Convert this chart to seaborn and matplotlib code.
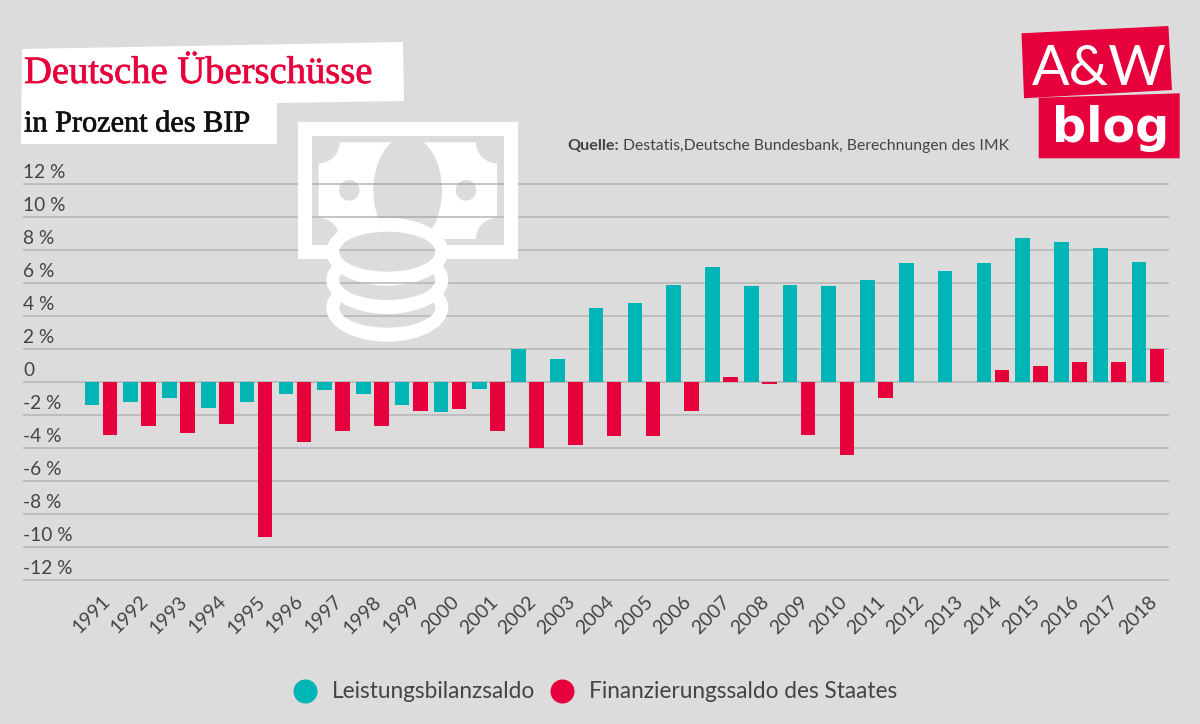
import numpy as np
import pandas as pd
import matplotlib
matplotlib.use("Agg")
import matplotlib.pyplot as plt
import matplotlib.patheffects as pe
import seaborn as sns
from matplotlib.lines import Line2D
from matplotlib.patches import Circle, Ellipse, Polygon, Rectangle
from matplotlib.transforms import ScaledTranslation

# Daten
jahre = list(range(1991, 2019))
leistungsbilanz = [-1.4, -1.2, -1.0, -1.55, -1.2, -0.75, -0.5, -0.75, -1.4, -1.8, -0.4,
                   2.0, 1.4, 4.5, 4.8, 5.9, 7.0, 5.8, 5.9, 5.8, 6.2, 7.2, 6.7, 7.2, 8.7, 8.5, 8.1, 7.3]
finanzierung = [-3.2, -2.65, -3.1, -2.55, -9.4, -3.65, -2.95, -2.65, -1.75, -1.65, -3.0,
                -4.0, -3.8, -3.3, -3.3, -1.75, 0.3, -0.15, -3.2, -4.4, -0.95, 0.0, 0.0, 0.7, 1.0, 1.2, 1.2, 2.0]
ytick_werte = [12, 10, 8, 6, 4, 2, 0, -2, -4, -6, -8, -10, -12]
ytick_texte = ['12 %', '10 %', '8 %', '6 %', '4 %', '2 %', '0', '-2 %', '-4 %', '-6 %', '-8 %', '-10 %', '-12 %']
serien = ['Leistungsbilanzsaldo', 'Finanzierungssaldo des Staates']

# Farben
GRAU = '#dcdcdc'
LINIE = '#b4b4b4'
TEAL = '#00b5b5'
ROT = '#e6003c'
TEXT = '#444444'
WEISS = 'white'

sns.set_style("white")
plt.rcParams['font.family'] = ['Lato', 'DejaVu Sans']

df = pd.DataFrame({'Jahr': jahre * 2,
                   'Wert': leistungsbilanz + finanzierung,
                   'Serie': [serien[0]] * len(jahre) + [serien[1]] * len(jahre)})

W, H = 1200, 724
fig = plt.figure(figsize=(W / 100, H / 100), dpi=100, facecolor=GRAU)
ax = fig.add_axes([23 / W, 1 - 581.6 / H, 1146 / W, 399.2 / H], facecolor=GRAU)

sns.barplot(data=df, x='Jahr', y='Wert', hue='Serie', hue_order=serien,
            palette={serien[0]: TEAL, serien[1]: ROT}, width=0.93, gap=0.19,
            legend=False, ax=ax, zorder=3, saturation=1, linewidth=0)

ax.set_xlim(-2.01, 27.54)
ax.set_ylim(-12.1, 12.1)
ax.set_xlabel('')
ax.set_ylabel('')
sns.despine(ax=ax, left=True, bottom=True)
ax.set_yticks(ytick_werte)
ax.set_yticklabels(ytick_texte, fontsize=13.8, color=TEXT, ha='left')
ax.tick_params(axis='y', length=0, pad=0)
ax.tick_params(axis='x', length=0, pad=8)
ax.grid(axis='y', color=LINIE, lw=1.1, zorder=0)
ax.set_axisbelow(True)
versatz = ScaledTranslation(0, 0.13, fig.dpi_scale_trans)
for t in ax.get_yticklabels():
    t.set_transform(t.get_transform() + versatz)
for t in ax.get_xticklabels():
    t.set_rotation(45)
    t.set_ha('right')
    t.set_rotation_mode('anchor')
    t.set_fontsize(14)
    t.set_color(TEXT)

# Ebene in Pixelkoordinaten fuer Titel, Logo und Symbol
deko = fig.add_axes([0, 0, 1, 1], facecolor='none')
deko.set_xlim(0, W)
deko.set_ylim(H, 0)
deko.axis('off')

deko.add_patch(Polygon([(22, 49), (403, 42), (404, 101), (277, 103), (277, 144), (21, 144)],
                       fc=WEISS, ec='none'))
dicker = [pe.withStroke(linewidth=0.5, foreground=ROT)]
deko.text(24, 83, 'Deutsche Überschüsse', color=ROT, fontsize=27.8, family='Liberation Serif',
          va='baseline', path_effects=dicker)
deko.text(24, 131.5, 'in Prozent des BIP', color='#111111', fontsize=21.8, family='Liberation Serif',
          va='baseline', path_effects=[pe.withStroke(linewidth=0.5, foreground='#111111')])


def loch(patch):
    # graue Aussparung, durch die die Gitterlinien sichtbar bleiben
    patch.set(fc=GRAU, ec='none')
    deko.add_patch(patch)
    for wert in ytick_werte:
        linie = Line2D([0, 1], [wert, wert], color=LINIE, lw=1.1, transform=ax.get_yaxis_transform())
        deko.add_line(linie)
        linie.set_clip_path(patch)


def schein(x0, y0, x1, y1, r):
    # Geldschein: Rechteck mit nach innen gewoelbten Ecken
    punkte = []
    ecken = [(x0, y0, 90, 0), (x1, y0, 180, 90), (x1, y1, 270, 180), (x0, y1, 360, 270)]
    for ex, ey, a, b in ecken:
        w = np.radians(np.linspace(a, b, 20))
        punkte += list(zip(ex + r * np.cos(w), ey + r * np.sin(w)))
    return Polygon(punkte, fc=WEISS, ec='none')


deko.add_patch(Rectangle((297.7, 121.7), 220, 137.3, fc=WEISS, ec='none'))
loch(Rectangle((311.7, 135.7), 192.3, 109.3))
deko.add_patch(schein(318.7, 142.3, 497, 239, 21))
loch(Ellipse((407.7, 190.3), 68.7, 108.6))
loch(Circle((349.3, 190.3), 10.3))
loch(Circle((466, 190.3), 10.3))
for my in [307.7, 280, 251.7]:
    deko.add_patch(Ellipse((387.3, my), 122, 68, fc=WEISS, ec='none'))
    loch(Ellipse((387.3, my), 96, 40))

# Quelle
deko.text(567, 150, 'Quelle:', color=TEXT, fontsize=11.6, fontweight='bold', va='baseline')
deko.text(623, 150, 'Destatis,Deutsche Bundesbank, Berechnungen des IMK', color=TEXT, fontsize=11.3, va='baseline')

# Logo
deko.add_patch(Polygon([(1021.5, 33.3), (1168.4, 26), (1172, 90), (1024, 98.3)], fc=ROT, ec='none'))
deko.add_patch(Polygon([(1038.7, 97.7), (1179.7, 93.3), (1179.7, 158.3), (1038.7, 158.3)], fc=ROT, ec='none'))
deko.text(1099, 85, 'A&W', color=WEISS, fontsize=40, family='Lato', ha='center', va='baseline')
deko.text(1110.5, 142, 'blog', color=WEISS, fontsize=34.3, family='DejaVu Sans', fontweight='bold', ha='center', va='baseline')

griffe = [Line2D([], [], ls='none', marker='o', ms=17.3, mfc=TEAL, mec='none'),
          Line2D([], [], ls='none', marker='o', ms=17.3, mfc=ROT, mec='none')]
fig.legend(griffe, serien, loc='center', bbox_to_anchor=(595.4 / W, 1 - 692 / H), ncol=2, frameon=False,
           fontsize=16.3, labelcolor=TEXT, handlelength=1, handletextpad=0.69, columnspacing=0.69)

fig.savefig('out.png', dpi=100, facecolor=GRAU)
